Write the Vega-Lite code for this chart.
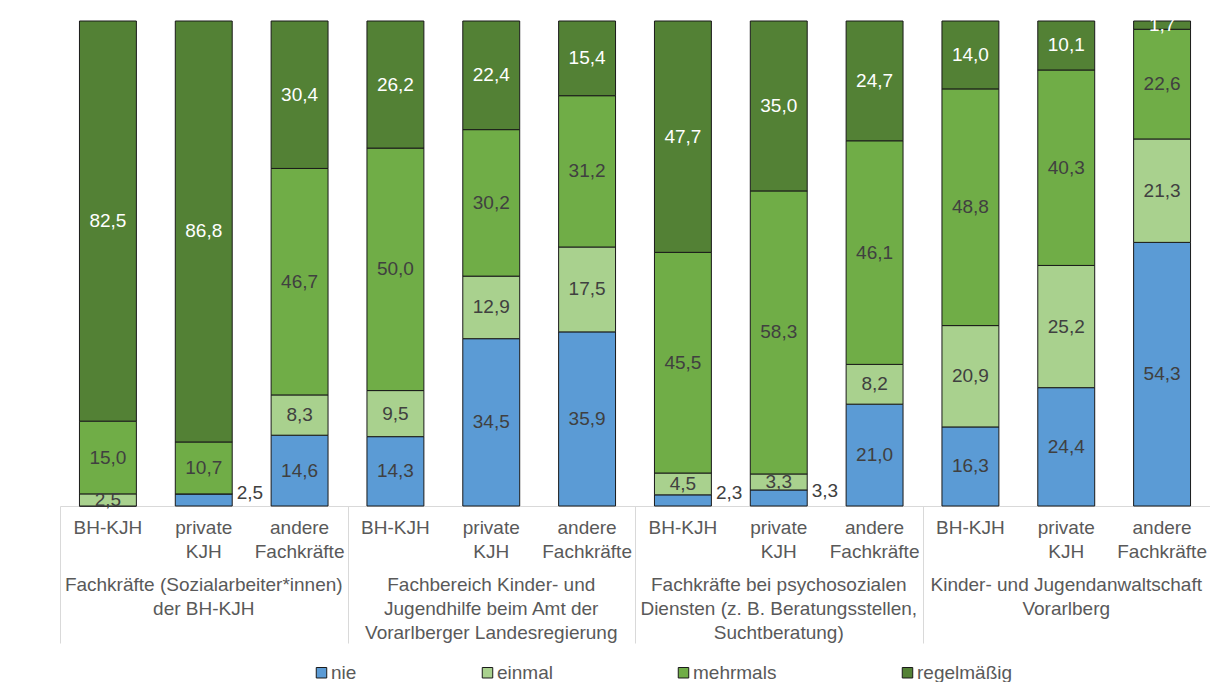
{
  "$schema": "https://vega.github.io/schema/vega-lite/v6.json",
  "width": 1150,
  "height": 485,
  "autosize": {"type": "none"},
  "padding": {"left": 60, "top": 21, "right": 0, "bottom": 176},
  "background": "white",
  "config": {
    "view": {"stroke": null},
    "font": "Liberation Sans",
    "axis": {"labelFont": "Liberation Sans", "labelColor": "#595959"},
    "legend": {"labelFont": "Liberation Sans"}
  },
  "data": {
    "values": [
      {"bar": 1, "group": "Fachkräfte der BH-KJH", "sub": "BH-KJH", "cat": "nie", "val": 0},
      {"bar": 1, "group": "Fachkräfte der BH-KJH", "sub": "BH-KJH", "cat": "einmal", "val": 2.5},
      {"bar": 1, "group": "Fachkräfte der BH-KJH", "sub": "BH-KJH", "cat": "mehrmals", "val": 15.0},
      {"bar": 1, "group": "Fachkräfte der BH-KJH", "sub": "BH-KJH", "cat": "regelmäßig", "val": 82.5},
      {"bar": 2, "group": "Fachkräfte der BH-KJH", "sub": "private KJH", "cat": "nie", "val": 2.5},
      {"bar": 2, "group": "Fachkräfte der BH-KJH", "sub": "private KJH", "cat": "einmal", "val": 0},
      {"bar": 2, "group": "Fachkräfte der BH-KJH", "sub": "private KJH", "cat": "mehrmals", "val": 10.7},
      {"bar": 2, "group": "Fachkräfte der BH-KJH", "sub": "private KJH", "cat": "regelmäßig", "val": 86.8},
      {"bar": 3, "group": "Fachkräfte der BH-KJH", "sub": "andere Fachkräfte", "cat": "nie", "val": 14.6},
      {"bar": 3, "group": "Fachkräfte der BH-KJH", "sub": "andere Fachkräfte", "cat": "einmal", "val": 8.3},
      {"bar": 3, "group": "Fachkräfte der BH-KJH", "sub": "andere Fachkräfte", "cat": "mehrmals", "val": 46.7},
      {"bar": 3, "group": "Fachkräfte der BH-KJH", "sub": "andere Fachkräfte", "cat": "regelmäßig", "val": 30.4},
      {"bar": 4, "group": "Fachbereich KJH Landesregierung", "sub": "BH-KJH", "cat": "nie", "val": 14.3},
      {"bar": 4, "group": "Fachbereich KJH Landesregierung", "sub": "BH-KJH", "cat": "einmal", "val": 9.5},
      {"bar": 4, "group": "Fachbereich KJH Landesregierung", "sub": "BH-KJH", "cat": "mehrmals", "val": 50.0},
      {"bar": 4, "group": "Fachbereich KJH Landesregierung", "sub": "BH-KJH", "cat": "regelmäßig", "val": 26.2},
      {"bar": 5, "group": "Fachbereich KJH Landesregierung", "sub": "private KJH", "cat": "nie", "val": 34.5},
      {"bar": 5, "group": "Fachbereich KJH Landesregierung", "sub": "private KJH", "cat": "einmal", "val": 12.9},
      {"bar": 5, "group": "Fachbereich KJH Landesregierung", "sub": "private KJH", "cat": "mehrmals", "val": 30.2},
      {"bar": 5, "group": "Fachbereich KJH Landesregierung", "sub": "private KJH", "cat": "regelmäßig", "val": 22.4},
      {"bar": 6, "group": "Fachbereich KJH Landesregierung", "sub": "andere Fachkräfte", "cat": "nie", "val": 35.9},
      {"bar": 6, "group": "Fachbereich KJH Landesregierung", "sub": "andere Fachkräfte", "cat": "einmal", "val": 17.5},
      {"bar": 6, "group": "Fachbereich KJH Landesregierung", "sub": "andere Fachkräfte", "cat": "mehrmals", "val": 31.2},
      {"bar": 6, "group": "Fachbereich KJH Landesregierung", "sub": "andere Fachkräfte", "cat": "regelmäßig", "val": 15.4},
      {"bar": 7, "group": "Psychosoziale Dienste", "sub": "BH-KJH", "cat": "nie", "val": 2.3},
      {"bar": 7, "group": "Psychosoziale Dienste", "sub": "BH-KJH", "cat": "einmal", "val": 4.5},
      {"bar": 7, "group": "Psychosoziale Dienste", "sub": "BH-KJH", "cat": "mehrmals", "val": 45.5},
      {"bar": 7, "group": "Psychosoziale Dienste", "sub": "BH-KJH", "cat": "regelmäßig", "val": 47.7},
      {"bar": 8, "group": "Psychosoziale Dienste", "sub": "private KJH", "cat": "nie", "val": 3.3},
      {"bar": 8, "group": "Psychosoziale Dienste", "sub": "private KJH", "cat": "einmal", "val": 3.3},
      {"bar": 8, "group": "Psychosoziale Dienste", "sub": "private KJH", "cat": "mehrmals", "val": 58.3},
      {"bar": 8, "group": "Psychosoziale Dienste", "sub": "private KJH", "cat": "regelmäßig", "val": 35.0},
      {"bar": 9, "group": "Psychosoziale Dienste", "sub": "andere Fachkräfte", "cat": "nie", "val": 21.0},
      {"bar": 9, "group": "Psychosoziale Dienste", "sub": "andere Fachkräfte", "cat": "einmal", "val": 8.2},
      {"bar": 9, "group": "Psychosoziale Dienste", "sub": "andere Fachkräfte", "cat": "mehrmals", "val": 46.1},
      {"bar": 9, "group": "Psychosoziale Dienste", "sub": "andere Fachkräfte", "cat": "regelmäßig", "val": 24.7},
      {"bar": 10, "group": "Kinder- und Jugendanwaltschaft", "sub": "BH-KJH", "cat": "nie", "val": 16.3},
      {"bar": 10, "group": "Kinder- und Jugendanwaltschaft", "sub": "BH-KJH", "cat": "einmal", "val": 20.9},
      {"bar": 10, "group": "Kinder- und Jugendanwaltschaft", "sub": "BH-KJH", "cat": "mehrmals", "val": 48.8},
      {"bar": 10, "group": "Kinder- und Jugendanwaltschaft", "sub": "BH-KJH", "cat": "regelmäßig", "val": 14.0},
      {"bar": 11, "group": "Kinder- und Jugendanwaltschaft", "sub": "private KJH", "cat": "nie", "val": 24.4},
      {"bar": 11, "group": "Kinder- und Jugendanwaltschaft", "sub": "private KJH", "cat": "einmal", "val": 25.2},
      {"bar": 11, "group": "Kinder- und Jugendanwaltschaft", "sub": "private KJH", "cat": "mehrmals", "val": 40.3},
      {"bar": 11, "group": "Kinder- und Jugendanwaltschaft", "sub": "private KJH", "cat": "regelmäßig", "val": 10.1},
      {"bar": 12, "group": "Kinder- und Jugendanwaltschaft", "sub": "andere Fachkräfte", "cat": "nie", "val": 54.3},
      {"bar": 12, "group": "Kinder- und Jugendanwaltschaft", "sub": "andere Fachkräfte", "cat": "einmal", "val": 21.3},
      {"bar": 12, "group": "Kinder- und Jugendanwaltschaft", "sub": "andere Fachkräfte", "cat": "mehrmals", "val": 22.6},
      {"bar": 12, "group": "Kinder- und Jugendanwaltschaft", "sub": "andere Fachkräfte", "cat": "regelmäßig", "val": 1.7}
    ]
  },
  "transform": [
    {"calculate": "indexof(['nie','einmal','mehrmals','regelmäßig'], datum.cat)", "as": "ord"},
    {"stack": "val", "groupby": ["bar"], "sort": [{"field": "ord", "order": "ascending"}], "as": ["y0", "y1"], "offset": "normalize"},
    {"calculate": "(datum.y0 + datum.y1) / 2", "as": "mid"},
    {"calculate": "replace(format(datum.val, '.1f'), '.', ',')", "as": "label"}
  ],
  "layer": [
    {
      "mark": {"type": "bar", "width": {"band": 0.594}, "stroke": "#1a1a1a", "strokeWidth": 1},
      "encoding": {
        "x": {
          "field": "bar", "type": "ordinal",
          "scale": {"paddingInner": 0, "paddingOuter": 0},
          "axis": {
            "orient": "bottom", "title": null, "labelAngle": 0,
            "labelExpr": "[['BH-KJH'], ['private', 'KJH'], ['andere', 'Fachkräfte']][(datum.value - 1) % 3]",
            "labelFontSize": 19, "labelLineHeight": 24, "labelPadding": 12, "labelLimit": 0,
            "ticks": false, "domain": true, "domainColor": "#D9D9D9", "grid": false, "labelColor": "#595959"
          }
        },
        "y": {
          "field": "y0", "type": "quantitative",
          "scale": {"domain": [0, 1], "nice": false},
          "axis": {
            "title": null, "format": ".0%", "values": [0, 0.2, 0.4, 0.6, 0.8, 1],
            "labelFontSize": 14, "labelPadding": 13, "ticks": false, "domain": false,
            "grid": true, "gridColor": "#D9D9D9", "labelColor": "#595959"
          }
        },
        "y2": {"field": "y1"},
        "color": {
          "field": "cat", "type": "nominal",
          "scale": {"domain": ["nie", "einmal", "mehrmals", "regelmäßig"], "range": ["#5B9BD5", "#A9D18E", "#70AD47", "#538135"]},
          "legend": {
            "orient": "none", "legendX": 252, "legendY": 642, "title": null, "direction": "horizontal",
            "symbolType": "square", "symbolSize": 110, "symbolStrokeColor": "#1a1a1a", "symbolStrokeWidth": 1,
            "labelFontSize": 19, "labelColor": "#595959", "labelOffset": 0, "columnPadding": 121
          }
        }
      }
    },
    {
      "transform": [{"filter": "datum.val > 0 && !(datum.cat == 'nie' && datum.val < 5)"}],
      "mark": {"type": "text", "fontSize": 19, "font": "Liberation Sans", "baseline": "middle", "align": "center"},
      "encoding": {
        "x": {
          "field": "bar", "type": "ordinal",
          "axis": {
            "orient": "bottom", "title": null, "labelAngle": 0,
            "labelExpr": "datum.value == 2 ? ['Fachkräfte (Sozialarbeiter*innen)', 'der BH-KJH'] : datum.value == 5 ? ['Fachbereich Kinder- und', 'Jugendhilfe beim Amt der', 'Vorarlberger Landesregierung'] : datum.value == 8 ? ['Fachkräfte bei psychosozialen', 'Diensten (z. B. Beratungsstellen,', 'Suchtberatung)'] : datum.value == 11 ? ['Kinder- und Jugendanwaltschaft', 'Vorarlberg'] : ''",
            "labelFontSize": 19, "labelLineHeight": 24, "labelPadding": 69, "labelLimit": 0,
            "labelOverlap": false, "labelBound": false,
            "ticks": false, "domain": false, "grid": false, "labelColor": "#595959"
          }
        },
        "y": {"field": "mid", "type": "quantitative", "axis": null},
        "text": {"field": "label"},
        "color": {"condition": {"test": "datum.cat == 'regelmäßig'", "value": "#FFFFFF"}, "value": "#404040"}
      }
    },
    {
      "transform": [{"filter": "datum.cat == 'nie' && datum.val > 0 && datum.val < 5"}],
      "mark": {"type": "text", "fontSize": 19, "font": "Liberation Sans", "baseline": "middle", "align": "left", "dx": 33, "dy": -7, "color": "#404040"},
      "encoding": {
        "x": {
          "field": "bar", "type": "ordinal",
          "axis": {
            "orient": "bottom", "title": null, "labels": false, "domain": false, "grid": false,
            "tickBand": "extent", "tickSize": 137, "tickColor": "#D9D9D9", "tickWidth": 1,
            "tickOpacity": {"condition": {"test": "datum.extra || datum.value == 3 || datum.value == 6 || datum.value == 9", "value": 1}, "value": 0}
          }
        },
        "y": {"field": "mid", "type": "quantitative", "axis": null},
        "text": {"field": "label"}
      }
    }
  ],
  "resolve": {"axis": {"x": "independent"}}
}
